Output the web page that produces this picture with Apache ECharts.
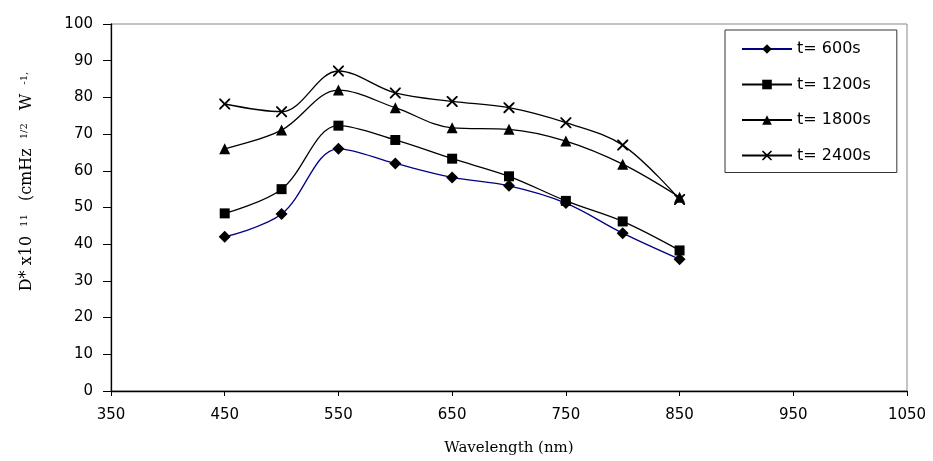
<!DOCTYPE html>
<html>
<head>
<meta charset="utf-8">
<script src="https://cdn.jsdelivr.net/npm/echarts@6/dist/echarts.min.js"></script>
<style>
html,body{margin:0;padding:0;background:#fff;}
#c{width:933px;height:461px;}
</style>
</head>
<body>
<div id="c"></div>
<script>
var wavelengths = [450, 500, 550, 600, 650, 700, 750, 800, 850];
var t600  = [42, 48.2, 66, 62, 58.2, 55.9, 51.2, 43, 35.9];
var t1200 = [48.4, 55, 72.3, 68.4, 63.3, 58.5, 51.8, 46.2, 38.3];
var t1800 = [66, 71.1, 82, 77.2, 71.7, 71.3, 68.1, 61.8, 52.8];
var t2400 = [78.2, 76.1, 87.2, 81.2, 78.9, 77.2, 73.1, 67, 52.2];
var seriesNames = ['t= 600s', 't= 1200s', 't= 1800s', 't= 2400s'];

function pairs(ys) { return wavelengths.map(function (x, i) { return [x, ys[i]]; }); }

var crossPath = 'path://M0,0 L1.2,0 L5,3.8 L8.8,0 L10,0 L10,1.2 L6.2,5 L10,8.8 L10,10 L8.8,10 L5,6.2 L1.2,10 L0,10 L0,8.8 L3.8,5 L0,1.2 Z';

function mk(name, ys, lineColor, symbol, size) {
  return {
    name: name, type: 'line', data: pairs(ys), smooth: 0.35,
    symbol: symbol, symbolSize: size,
    lineStyle: { color: lineColor, width: 1.3 },
    itemStyle: { color: '#000', borderWidth: 0 },
    emphasis: { disabled: true },
    z: 3
  };
}

var chart = echarts.init(document.getElementById('c'), null, { renderer: 'canvas' });
chart.setOption({
  animation: false,
  backgroundColor: '#fff',
  grid: { left: 111, right: 26, top: 24, bottom: 68, show: true, borderColor: '#888', borderWidth: 1 },
  legend: {
    orient: 'vertical', left: 725, top: 30,
    padding: [11, 26, 9, 16], itemGap: 19.5, itemWidth: 50, itemHeight: 12,
    borderColor: '#333', borderWidth: 1, backgroundColor: '#fff',
    textStyle: { fontFamily: 'DejaVu Sans', fontSize: 16, color: '#000' },
    data: seriesNames
  },
  xAxis: {
    type: 'value', min: 350, max: 1050, interval: 100,
    axisLine: { onZero: false, lineStyle: { color: '#000', width: 1.3 } },
    axisTick: { show: true, length: 5, lineStyle: { color: '#000' } },
    axisLabel: { margin: 17, fontFamily: 'DejaVu Sans', fontSize: 15, color: '#000',
      formatter: function (v) { return String(v); } },
    splitLine: { show: false },
    name: 'Wavelength (nm)', nameLocation: 'middle', nameGap: 50,
    nameTextStyle: { fontFamily: 'DejaVu Serif', fontSize: 15, color: '#000' }
  },
  yAxis: {
    type: 'value', min: 0, max: 100, interval: 10,
    axisLine: { show: true, lineStyle: { color: '#000', width: 1.3 } },
    axisTick: { show: true, length: 8, lineStyle: { color: '#000' } },
    axisLabel: { margin: 18, fontFamily: 'DejaVu Sans', fontSize: 15, color: '#000',
      formatter: function (v) { return String(v); } },
    splitLine: { show: false },
    name: 'D* x10{sup|11} (cmHz{sup|1/2} W{sup|-1,}', nameLocation: 'middle', nameGap: 76,
    nameTextStyle: {
      fontFamily: 'DejaVu Serif', fontSize: 16, color: '#000',
      padding: [0, 0, 0, 60],
      rich: {
        sup: { fontFamily: 'DejaVu Serif', fontSize: 10, verticalAlign: 'top', padding: [0, 8, 0, 9], color: '#000' }
      }
    }
  },
  series: [
    mk(seriesNames[0], t600, '#000080', 'diamond', 12),
    mk(seriesNames[1], t1200, '#000', 'rect', 10),
    mk(seriesNames[2], t1800, '#000', 'triangle', 11),
    mk(seriesNames[3], t2400, '#000', crossPath, 11)
  ]
});
</script>
</body>
</html>
